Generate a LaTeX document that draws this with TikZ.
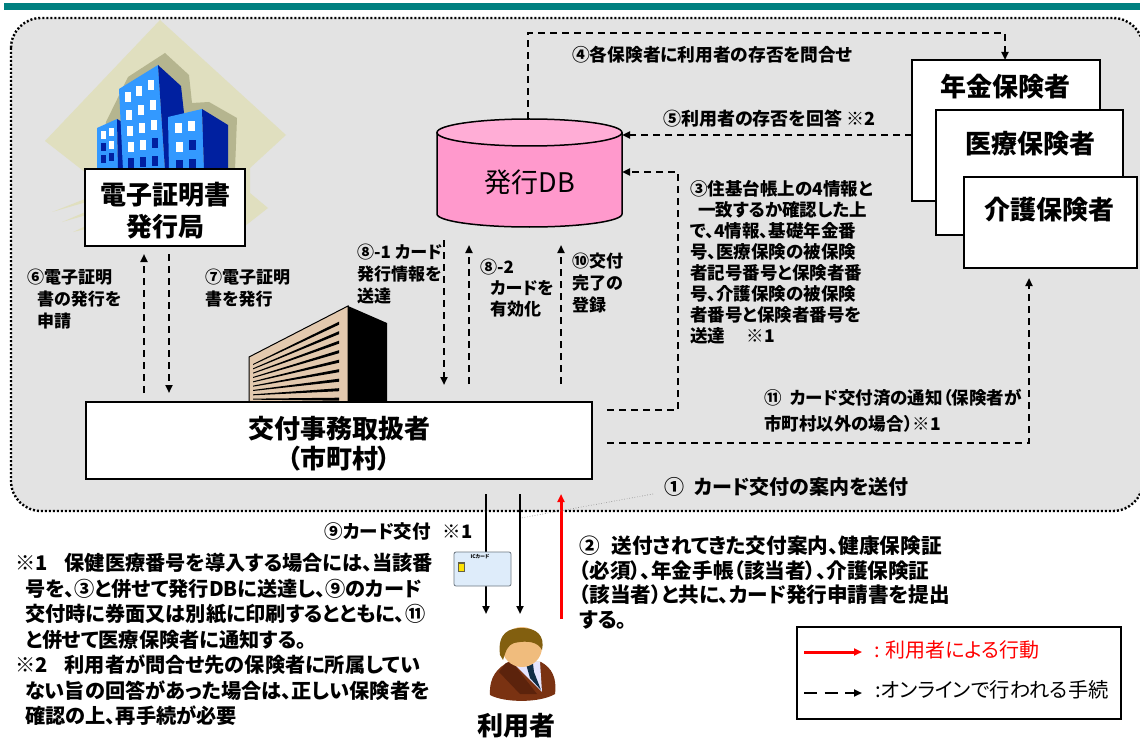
\documentclass[tikz,border=0pt]{standalone}
\usepackage{fontspec}
\setmainfont[RawFeature={+palt}]{Noto Sans CJK JP}
\usetikzlibrary{arrows.meta}
\definecolor{barc}{RGB}{0,128,128}
\definecolor{areac}{RGB}{227,227,227}
\definecolor{beige}{RGB}{224,223,191}
\definecolor{olive2}{RGB}{181,181,143}
\definecolor{bl}{RGB}{51,153,255}
\definecolor{bd}{RGB}{0,32,160}
\definecolor{tan2}{RGB}{227,201,174}
\definecolor{dbbody}{RGB}{255,153,204}
\definecolor{dbtop}{RGB}{255,173,214}
\definecolor{cardedge}{RGB}{110,120,130}
\definecolor{cardfill}{RGB}{222,236,250}
\definecolor{suit}{RGB}{122,50,18}
\definecolor{tiec}{RGB}{15,45,70}
\definecolor{lapel}{RGB}{92,35,12}
\definecolor{skin}{RGB}{240,188,125}
\definecolor{hair}{RGB}{130,95,15}
\tikzset{
  bx/.style={draw=black,fill=white,line width=2pt,inner sep=0pt,outer sep=0pt,align=center},
  lbl/.style={anchor=north west,inner sep=0pt,align=left,text=black},
  arr/.style={-{Triangle[length=8pt,width=7pt]}},
  dsh/.style={line width=2.1pt,dash pattern=on 7pt off 5pt},
  sol/.style={line width=2pt},
}
\newcommand{\fs}[2]{\fontsize{#1}{#2}\selectfont}
\begin{document}
\begin{tikzpicture}[x=1pt,y=-1pt]
\useasboundingbox (0,0) rectangle (1140,738);
% top bar
\fill[white] (0,0) rectangle (1140,738);
\fill[barc] (4,3.5) rectangle (1140,10.5);
% area
\draw[fill=areac,line width=2.4pt,dash pattern=on 2pt off 2pt,rounded corners=30pt] (11,18) rectangle (1143,511);
% diamond
\fill[beige] (160,20) -- (286,135) -- (250,168) -- (250,193) -- (268,208) -- (240,230) -- (150,230) -- (90,200) -- (90,190) -- (85,175) -- cycle;
\fill[beige] (160,20) -- (45,141) -- (95,180) -- (170,170) -- cycle;
\fill[beige] (52,212) -- (90,197) -- (90,201) -- cycle;
\fill[beige] (62,222) -- (90,210) -- (90,214) -- cycle;
\fill[beige] (73,232) -- (90,224) -- (90,228) -- cycle;
% shadow
\fill[olive2] (106,122) -- (128,77) -- (165,53) -- (189,75) -- (192,103) -- (209,102) -- (237,118) -- (235,170) -- (100,170) -- cycle;
% left building
\fill[bl] (97,128) -- (117,119) -- (118,170) -- (97,170) -- cycle;
\fill[bd] (117,119) -- (124,123) -- (124,170) -- (118,170) -- cycle;
% middle building
\fill[bl] (119,89) -- (158,65) -- (165,170) -- (123,170) -- cycle;
\fill[bd] (158,65) -- (181,86) -- (184,113) -- (184,170) -- (165,170) -- cycle;
% right building
\fill[bl] (168,117) -- (202,109) -- (204,170) -- (169,170) -- cycle;
\fill[bd] (202,109) -- (228,125) -- (228,170) -- (204,170) -- cycle;
% windows
\foreach \x/\y in {128/97,139/91,151/85,129/115,141/110,153/105,130/131,142/128,154/125,131/147,143/145}
  \fill[white] (\x-3,\y-5) rectangle (\x+3,\y+5);
\foreach \x/\y in {155/143,131/163,143/162,155/161}
  \fill[bd] (\x-3,\y-5) rectangle (\x+3,\y+5);
\foreach \x/\y in {103/135,111/132,111/145}
  \fill[white] (\x-2.5,\y-4) rectangle (\x+2.5,\y+4);
\foreach \x/\y in {103/147,103/159,111/157}
  \fill[bd] (\x-2.5,\y-4) rectangle (\x+2.5,\y+4);
\foreach \x/\y in {178/128,191/126,179/147}
  \fill[white] (\x-3.5,\y-5) rectangle (\x+3.5,\y+5);
\foreach \x/\y in {192/145,179/165,192/164}
  \fill[bd] (\x-3.5,\y-5) rectangle (\x+3.5,\y+5);
% office building
\draw[fill=tan2,line width=1pt] (249,357) -- (348,306) -- (348,402) -- (249,402) -- cycle;
\fill[black] (348,306) -- (387,323) -- (387,402) -- (348,402) -- cycle;
\foreach \i in {0,...,8}
  \fill[black] (253,{364+4.33*\i}) -- (339,{321.7+9.5*\i}) -- (339,{324.7+9.5*\i}) -- (253,{365+4.33*\i}) -- cycle;
% boxes
\node[bx,minimum width=160pt,minimum height=77pt] (cert) at (165,207.5) {};
\node[inner sep=0pt,align=center,font=\bfseries\fs{26}{32}] (certT) at (165,211) {電子証明書\\発行局};
\node[bx,minimum width=506pt,minimum height=77pt] (office) at (339,440.5) {};
\node[inner sep=0pt,align=center,font=\bfseries\fs{26}{30}] (officeT) at (339,443.5) {交付事務取扱者\\（市町村）};
\node[bx,minimum width=188pt,minimum height=141pt,anchor=north west] (nenkin) at (912,60) {};
\node[anchor=center,inner sep=0pt] (nenkinT) at (1005,87) {\bfseries\fs{26}{26}年金保険者};
\node[bx,minimum width=187pt,minimum height=125pt,anchor=north west] (iryo) at (936,110) {};
\node[anchor=center,inner sep=0pt] (iryoT) at (1030,144) {\bfseries\fs{26}{26}医療保険者};
\node[bx,minimum width=173pt,minimum height=91pt,anchor=north west] (kaigo) at (964,177) {};
\node[anchor=center,inner sep=0pt] (kaigoT) at (1049,210) {\bfseries\fs{26}{26}介護保険者};
% cylinder
\draw[fill=dbbody,line width=1.5pt] (437,132.5) -- (437,214) arc[start angle=180,end angle=360,x radius=92.5pt,y radius=13pt] -- (622,132.5);
\draw[fill=dbtop,line width=1.5pt] (529.5,132.5) ellipse[x radius=92.5pt,y radius=13.5pt];
\node[inner sep=0pt] (db) at (530,182) {\fs{27}{27}発行DB};
% anchors
\coordinate (dbTop) at (528,119);
\coordinate (dbR1) at (622,135);
\coordinate (dbR2) at (622,172);
\coordinate (p4a) at (528,33);
\coordinate (p4b) at (1005,33);
\coordinate (nenkinTop) at (1005,60);
\coordinate (nenkinL) at (912,135);
\coordinate (o3) at (607,410);
\coordinate (p3a) at (678,410);
\coordinate (p3b) at (678,172);
\coordinate (o11) at (607,443);
\coordinate (p11) at (1029,443);
\coordinate (kaigoB) at (1029,278);
\coordinate (a6s) at (144,393);
\coordinate (a6e) at (144,254);
\coordinate (a7s) at (169,254);
\coordinate (a7e) at (169,393);
\coordinate (a81s) at (444,240);
\coordinate (a81e) at (444,385);
\coordinate (a82s) at (469,384);
\coordinate (a82e) at (469,245);
\coordinate (a10s) at (561,384);
\coordinate (a10e) at (561,245);
\coordinate (s9as) at (486,494);
\coordinate (s9ae) at (486,614);
\coordinate (s9bs) at (520,494);
\coordinate (s9be) at (520,614);
\coordinate (r2s) at (561,619);
\coordinate (r2e) at (561,494);
\coordinate (c1a) at (653,494);
\coordinate (c1b) at (521,518);
% connectors
\draw[dsh,arr] (dbTop) -- (p4a) -- (p4b) -- (nenkinTop);
\draw[dsh,arr] (nenkinL) -- (dbR1);
\draw[dsh,arr] (o3) -- (p3a) -- (p3b) -- (dbR2);
\draw[dsh,arr] (o11) -- (p11) -- (kaigoB);
\draw[dsh,arr] (a6s) -- (a6e);
\draw[dsh,arr] (a7s) -- (a7e);
\draw[dsh,arr] (a81s) -- (a81e);
\draw[dsh,arr] (a82s) -- (a82e);
\draw[dsh,arr] (a10s) -- (a10e);
\draw[sol,arr] (s9as) -- (s9ae);
\draw[sol,arr] (s9bs) -- (s9be);
\draw[line width=3pt,red,arr] (r2s) -- (r2e);
\draw[gray,line width=.6pt,dotted] (c1a) -- (c1b);
% IC card
\node[draw=cardedge,fill=cardfill,line width=.8pt,rounded corners=2pt,minimum width=57pt,minimum height=34pt,inner sep=0pt] (card) at (482.5,569) {};
\fill[black!70!yellow] (457.5,562) rectangle (465,572);
\fill[yellow!85!orange] (459,563.5) rectangle (463.5,570.5);
\node[inner sep=0pt] (cardT) at (480,557) {\bfseries\fs{5}{5}ICカード};
% person
\fill[suit] (490,695) .. controls (489,677) and (497,668) .. (510,661) -- (541,662) .. controls (552,668) and (557,678) .. (555,694) .. controls (540,703) and (505,703) .. cycle;
\fill[white!90!blue] (510,660) -- (540,662) -- (542,692) -- cycle;
\fill[tiec] (526,664) -- (533,664) -- (534,672) -- (541,690) -- (530,678) -- cycle;
\fill[lapel] (506,663) -- (512,662) -- (537,694) -- (520,694) -- (499,672) -- cycle;
\fill[skin] (522,647) ellipse[x radius=20pt,y radius=20pt];
\fill[hair] (500,655) .. controls (497,632) and (510,628) .. (522,628) .. controls (537,628) and (545,636) .. (542,650) .. controls (538,642) and (528,640) .. (514,643) .. controls (508,645) and (506,650) .. (503,660) -- cycle;
\node[inner sep=0pt] (userT) at (516,726) {\bfseries\fs{26}{26}利用者};
% labels
\node[lbl,font=\bfseries\fs{17.7}{18}] (l4) at (572,46) {④各保険者に利用者の存否を問合せ};
\node[lbl,font=\bfseries\fs{18}{18}] (l5) at (663,110) {⑤利用者の存否を回答 ※2};
\node[lbl,font=\bfseries\fs{17.5}{21}] (l3) at (690,180) {③住基台帳上の4情報と\\\hspace*{8pt}一致するか確認した上\\で、4情報、基礎年金番\\号、医療保険の被保険\\者記号番号と保険者番\\号、介護保険の被保険\\者番号と保険者番号を\\送達　 ※1};
\node[lbl,font=\bfseries\fs{17.5}{26}] (l11) at (764,389) {⑪\hspace{8pt}カード交付済の通知（保険者が\\市町村以外の場合）※1};
\node[lbl,font=\bfseries\fs{20}{20}] (l1) at (664,477) {①\hspace{10pt}カード交付の案内を送付};
\node[lbl,font=\bfseries\fs{17}{22}] (l6) at (27,269) {⑥電子証明\\\hspace*{10pt}書の発行を\\\hspace*{10pt}申請};
\node[lbl,font=\bfseries\fs{17}{22}] (l7) at (205,269) {⑦電子証明\\書を発行};
\node[lbl,font=\bfseries\fs{17}{22}] (l81) at (357,244) {⑧-1 カード\\発行情報を\\送達};
\node[lbl,font=\bfseries\fs{17}{21}] (l82) at (480,259) {⑧-2\\\hspace*{10pt}カードを\\\hspace*{10pt}有効化};
\node[lbl,font=\bfseries\fs{17}{22}] (l10) at (572,253) {⑩交付\\完了の\\登録};
\node[lbl,font=\bfseries\fs{18.5}{18.5}] (l9) at (324,522) {⑨カード交付\hspace{12pt}※1};
\node[lbl,font=\bfseries\fs{20.2}{25.5}] (n1) at (15,553) {※1\hspace{17pt}保健医療番号を導入する場合には、当該番\\\hspace*{10pt}号を、③と併せて発行DBに送達し、⑨のカード\\\hspace*{10pt}交付時に券面又は別紙に印刷するとともに、⑪\\\hspace*{10pt}と併せて医療保険者に通知する。\\※2\hspace{17pt}利用者が問合せ先の保険者に所属してい\\\hspace*{10pt}ない旨の回答があった場合は、正しい保険者を\\\hspace*{10pt}確認の上、再手続が必要};
\node[lbl,font=\bfseries\fs{20.6}{24.5}] (n2) at (579,536) {②\hspace{12pt}送付されてきた交付案内、健康保険証\\（必須）、年金手帳（該当者）、介護保険証\\（該当者）と共に、カード発行申請書を提出\\する。};
% legend
\node[bx,minimum width=324pt,minimum height=92pt] (legend) at (959,673) {};
\coordinate (lr1) at (804,652);
\coordinate (lr2) at (862,652);
\coordinate (lb1) at (804,693);
\coordinate (lb2) at (862,693);
\draw[red,line width=3pt,arr] (lr1) -- (lr2);
\draw[line width=2.4pt,dash pattern=on 13pt off 7.5pt,arr] (lb1) -- (lb2);
\node[anchor=west,inner sep=0pt,text=red] (lt1) at (874,650) {\fs{20}{20}: 利用者による行動};
\node[anchor=west,inner sep=0pt] (lt2) at (875,690) {\fs{20.3}{20}:オンラインで行われる手続};
\end{tikzpicture}
\end{document}
